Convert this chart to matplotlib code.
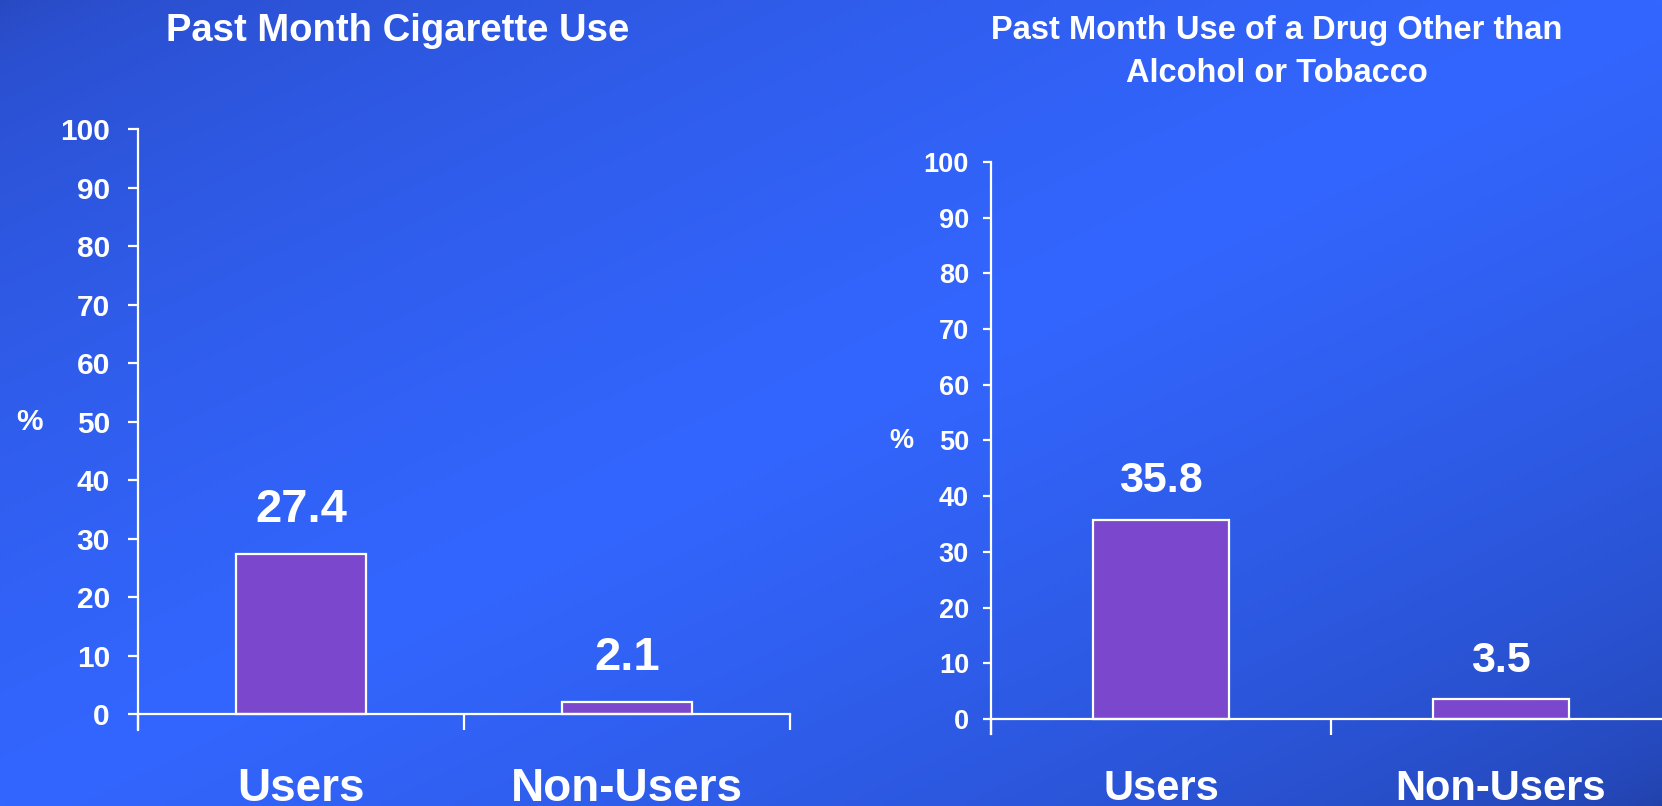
import numpy as np
import matplotlib
matplotlib.use("Agg")
import matplotlib.pyplot as plt
from matplotlib.colors import to_rgb

plt.rcParams['font.family'] = ['Liberation Sans', 'DejaVu Sans']
plt.rcParams['font.weight'] = 'bold'

# --- data ---
categories = ["Users", "Non-Users"]
cig_values = [27.4, 2.1]
drug_values = [35.8, 3.5]
y_ticks = list(range(0, 101, 10))
title_left = "Past Month Cigarette Use"
title_right = "Past Month Use of a Drug Other than\nAlcohol or Tobacco"

bar_color = "#7B47CC"
W, H = 1662, 806
fig = plt.figure(figsize=(W / 100, H / 100), dpi=100)

# --- gradient background: darker top-left / bottom-right corners ---
bg = fig.add_axes([0, 0, 1, 1], zorder=-10)
xx, yy = np.meshgrid(np.linspace(0, 1, 400), np.linspace(0, 1, 200))
t = (xx + yy) / 2
dark_tl = np.array(to_rgb("#2848C0"))
dark_br = np.array(to_rgb("#2140A8"))
bright = np.array(to_rgb("#3366FF"))
f = np.clip(1 - np.abs(2 * t - 1), 0, 1) ** 0.55
dark = np.where((t < 0.5)[..., None], dark_tl, dark_br)
img = dark + (bright - dark) * f[..., None]
bg.imshow(img, aspect='auto', extent=[0, 1, 0, 1], origin='upper')
bg.axis('off')


def draw_panel(rect, values, fs_tick, fs_val, fs_cat, tick_pad, ytick_len,
               val_off, cat_pad, pct_x):
    ax = fig.add_axes(rect)
    ax.set_facecolor('none')
    x = np.arange(len(categories))
    ax.bar(x, values, width=0.4, color=bar_color, edgecolor='white',
           linewidth=1.6, zorder=3)
    ax.set_xlim(-0.5, 1.5)
    ax.set_ylim(-2.7, 100)
    for s in ['top', 'right']:
        ax.spines[s].set_visible(False)
    ax.spines['bottom'].set_position(('data', 0))
    for s in ['left', 'bottom']:
        ax.spines[s].set_color('white')
        ax.spines[s].set_linewidth(1.6)
        ax.spines[s].set_zorder(4)
    ax.set_yticks(y_ticks)
    ax.tick_params(axis='y', colors='white', labelsize=fs_tick, length=ytick_len,
                   width=1.6, pad=tick_pad)
    ax.set_xticks([-0.5, 0.5, 1.5], ['', '', ''])
    ax.tick_params(axis='x', which='major', colors='white', length=11.5, width=1.6)
    ax.set_xticks(x, categories, minor=True)
    ax.tick_params(axis='x', which='minor', length=0, pad=cat_pad,
                   labelsize=fs_cat, labelcolor='white')
    for lab in ax.get_yticklabels() + ax.get_xticklabels(minor=True):
        lab.set_fontweight('bold')
    for xi, v in zip(x, values):
        ax.annotate(f"{v}", (xi, v), xytext=(0, val_off), textcoords='offset points',
                    ha='center', va='baseline', color='white', fontsize=fs_val,
                    fontweight='bold')
    ax.set_ylabel('%', rotation=0, color='white', fontsize=fs_tick,
                  fontweight='bold', va='center', ha='center')
    ax.yaxis.set_label_coords(pct_x, 0.513)
    return ax


draw_panel([138 / W, 1 - 730 / H, 652 / W, 601 / H], cig_values,
           fs_tick=21.5, fs_val=34, fs_cat=33, tick_pad=13, ytick_len=7.2,
           val_off=23, cat_pad=38, pct_x=-0.167)
draw_panel([991 / W, 1 - 734 / H, 680 / W, 572 / H], drug_values,
           fs_tick=19.5, fs_val=31, fs_cat=30, tick_pad=10, ytick_len=5.8,
           val_off=19.5, cat_pad=36, pct_x=-0.132)

fig.text(398 / W, 1 - 13 / H, title_left, ha='center', va='top', color='white',
         fontsize=27.5, fontweight='bold')
fig.text(1277 / W, 1 - 15 / H, title_right, ha='center', va='top', color='white',
         fontsize=23.5, fontweight='bold', linespacing=1.48)

fig.savefig("out.png", dpi=100)
